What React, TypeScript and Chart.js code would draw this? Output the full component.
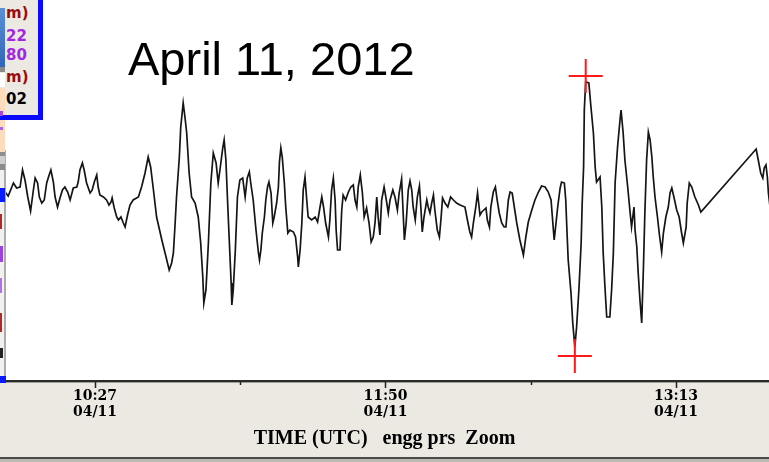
import React, { useEffect, useRef } from "react";
import { Chart, registerables } from "chart.js";

Chart.register(...registerables);

// Time in minutes after 10:00 UTC (04/11), sea level in cm
const times: number[] = [
  -0.2, 1.3, 2.2, 3.7, 4.6, 5.6, 6.3, 7.0, 7.8, 8.6,
  9.4, 9.9, 10.6, 11.1, 11.8, 12.5, 13.2, 13.9, 14.4, 15.1,
  15.6, 16.3, 17.0, 17.7, 18.4, 19.2, 19.9, 20.8, 21.8, 22.2,
  22.7, 23.4, 23.9, 24.6, 25.6, 26.2, 26.8, 27.5, 27.9, 28.4,
  29.4, 30.3, 31.0, 31.6, 31.9, 32.5, 33.2, 33.7, 34.4, 35.1,
  35.6, 36.3, 37.0, 37.9, 39.4, 40.3, 41.3, 42.2, 42.9, 43.7,
  44.6, 46.1, 47.3, 48.2, 48.9, 49.4, 49.9, 50.3, 51.1, 51.5,
  52.2, 52.7, 53.2, 53.9, 54.6, 55.6, 56.5, 57.2, 57.8, 58.1,
  58.7, 59.4, 60.1, 60.8, 61.6, 62.2, 62.7, 63.5, 63.9, 64.4,
  64.9, 65.4, 65.9, 66.1, 66.5, 67.1, 67.7, 68.4, 69.2, 69.9,
  70.5, 71.1, 71.5, 72.2, 73.0, 73.7, 74.0, 74.4, 74.8, 75.4,
  75.8, 76.3, 76.7, 77.3, 77.8, 78.2, 78.9, 79.4, 79.7, 80.1,
  80.5, 81.1, 81.5, 82.1, 82.7, 83.7, 84.3, 84.9, 85.1, 85.6,
  86.1, 86.5, 87.0, 87.5, 87.9, 88.9, 89.9, 90.6, 91.3, 91.8,
  92.3, 92.9, 93.7, 94.1, 94.6, 95.1, 95.6, 95.9, 96.3, 97.0,
  97.5, 97.9, 98.6, 99.4, 100.1, 100.8, 101.3, 101.8, 102.2, 102.8,
  103.4, 103.9, 104.6, 105.3, 105.9, 106.5, 107.0, 107.5, 107.9, 108.4,
  108.9, 109.6, 110.1, 110.8, 111.3, 112.1, 112.7, 113.4, 113.9, 114.6,
  115.1, 115.4, 115.9, 116.5, 117.0, 117.5, 117.9, 118.5, 119.1, 119.7,
  120.1, 120.5, 121.0, 121.8, 122.2, 122.7, 123.2, 123.7, 124.1, 124.8,
  125.4, 125.9, 126.3, 127.0, 127.8, 128.6, 129.4, 130.3, 131.3, 132.7,
  133.4, 134.1, 134.6, 135.1, 135.8, 136.3, 137.0, 137.5, 138.1, 138.7,
  139.1, 139.7, 140.1, 140.8, 141.4, 141.9, 142.5, 143.2, 143.9, 144.4,
  145.1, 145.6, 146.2, 146.8, 147.5, 148.4, 149.4, 150.1, 150.8, 151.8,
  152.7, 153.7, 154.6, 155.6, 156.5, 157.3, 157.9, 158.2, 158.6, 159.2,
  159.9, 160.3, 161.1, 161.5, 161.8, 162.2, 163.0, 163.5, 164.1, 164.6,
  165.3, 165.9, 166.2, 166.6, 166.8, 167.2, 168.1, 168.7, 169.4, 169.9,
  170.3, 171.3, 171.8, 172.2, 172.7, 173.2, 174.1, 174.6, 175.1, 175.6,
  176.3, 177.0, 177.3, 177.9, 178.4, 179.2, 179.9, 180.3, 181.0, 181.3,
  181.8, 182.2, 182.7, 183.2, 183.7, 184.1, 184.6, 185.1, 185.6, 186.1,
  186.5, 187.0, 187.7, 188.2, 188.9, 189.4, 190.1, 190.8, 191.3, 191.8,
  192.4, 193.2, 193.9, 194.6, 195.1, 195.9, 196.2, 196.8, 197.5, 198.4,
  199.4, 200.1, 215.9, 216.5, 217.2, 217.8, 218.2, 218.7, 219.1, 219.4, 219.8,
];

const levels: number[] = [
  1.4, 1.3, 0.9, 2.2, 1.7, 1.8, 3.5, 2.5, 0.8, -0.6,
  1.5, 2.7, 2.2, 0.8, 0.2, 0.5, 2.2, 3.0, 3.5, 2.3,
  0.8, -0.2, 0.7, 1.5, 1.8, 1.3, 0.5, 1.7, 1.8, 2.3,
  3.5, 4.2, 3.5, 2.2, 1.2, 1.5, 2.3, 3.0, 1.8, 1.0,
  0.8, 0.5, 0.0, 0.3, 0.7, -0.3, -1.2, -1.5, -1.2, -1.8,
  -2.2, -1.0, 0.0, 0.5, 0.8, 1.8, 3.2, 4.8, 3.8, 1.5,
  -1.2, -3.5, -5.2, -6.5, -5.8, -4.8, -1.8, 0.8, 4.8, 7.8,
  10.2, 8.8, 7.2, 3.2, 0.8, 0.2, -1.2, -3.8, -7.2, -9.8,
  -8.5, -3.8, 2.2, 5.2, 4.2, 2.2, 3.5, 5.7, 6.5, 4.5,
  0.2, -3.8, -7.8, -10.0, -8.5, -4.5, 0.8, 2.5, 2.7, 0.8,
  2.7, 3.3, 2.2, 0.5, -2.5, -4.8, -5.5, -4.5, -2.8, -1.2,
  0.5, 1.8, 2.3, 1.2, -1.8, -1.2, 0.2, 1.8, 4.3, 5.7,
  4.8, 2.2, -0.2, -2.8, -2.5, -2.7, -3.2, -5.2, -6.2, -4.5,
  -1.8, 1.5, 2.8, 0.5, -1.2, -1.5, -1.2, -1.7, -0.2, 0.8,
  -0.2, -1.8, -3.2, -1.5, 1.5, 2.7, 0.5, -2.5, -4.5, -4.5,
  -0.5, 1.0, 0.5, 1.3, 1.8, 2.0, 0.5, -0.2, 1.8, 3.0,
  1.2, -1.2, -0.3, -1.8, -3.7, -3.2, -1.8, 0.8, -1.2, -3.0,
  0.5, 1.8, 0.8, -0.8, 0.5, 1.5, 0.8, -0.5, 1.2, 2.6,
  -1.2, -3.5, -1.8, 1.5, 2.4, 1.5, -0.2, -1.5, 0.8, 1.9,
  -0.2, -2.7, -1.2, 0.5, -0.2, -0.8, 0.2, 1.0, -0.5, -2.5,
  -3.2, -1.2, 0.7, 0.2, -0.2, 0.8, 0.5, 0.2, 0.0, -0.2,
  -1.5, -2.7, -3.2, -1.8, -0.2, 1.2, -1.0, -0.7, -0.5, -0.3,
  -1.5, -2.2, -0.2, 1.3, 1.8, 0.5, -0.8, -1.8, -2.2, -2.2,
  0.5, 1.3, 1.2, -0.2, -1.8, -3.5, -5.0, -3.2, -1.7, -0.5,
  0.5, 1.3, 1.9, 1.8, 1.3, 0.5, -2.2, -3.5, -2.2, -0.2,
  1.7, 2.3, 2.2, 0.5, -2.2, -5.5, -8.8, -11.8, -14.2, -12.2,
  -8.2, -3.8, 0.2, 3.8, 9.5, 12.3, 12.2, 9.8, 7.2, 3.8,
  2.3, 2.8, -0.2, -4.8, -8.2, -11.2, -11.2, -8.5, -4.8, 2.2,
  5.8, 8.5, 9.5, 7.2, 4.5, 1.8, -0.8, -2.2, -0.2, -2.5,
  -4.2, -6.8, -9.5, -11.8, -6.2, -0.8, 4.5, 7.3, 6.5, 4.8,
  2.8, 0.8, -1.2, -2.8, -4.7, -2.8, -1.2, -0.2, 1.2, 1.7,
  0.8, -0.5, -1.2, -2.8, -3.8, -2.2, 0.2, 2.2, 1.8, 0.8,
  0.0, -0.7, 5.6, 4.5, 3.2, 2.7, 3.7, 4.0, 2.8, 1.2, 0.0,
];

// Max / min markers (red crosses)
const extremeTimes: number[] = [167.2, 164.1];
const extremeLevels: number[] = [12.9, -15.1];

// X axis ticks (minutes after 10:00)
const tickValues: number[] = [27, 68.5, 110, 151.5, 193];
const tickLabels: (string | string[])[] = [["10:27", "04/11"], "", ["11:50", "04/11"], "", ["13:13", "04/11"]];
const tickIsMajor: boolean[] = [true, false, true, false, true];

const xMin = -0.14;
const xMax = 219.57;
const yMin = -17.6;
const yMax = 20.5;

const axisTitle = "TIME (UTC)   engg prs  Zoom";
const chartTitle = "April 11, 2012";

const panelTexts: string[] = ["m)", "22", "80", "m)", "02"];
const panelColors: string[] = ["#9a0b0b", "#a028e0", "#a028e0", "#9a0b0b", "#000000"];
const panelTops: number[] = [6, 29, 48, 70, 92];

const framePlugin = {
  id: "frame",
  beforeDraw(chart: any) {
    const { ctx, chartArea, width, height } = chart;
    ctx.save();
    ctx.fillStyle = "#ffffff";
    ctx.fillRect(0, 0, width, chartArea.bottom);
    ctx.fillStyle = "#ECE9E3";
    ctx.fillRect(0, chartArea.bottom, width, height - chartArea.bottom);
    ctx.fillStyle = "#a09e9a";
    ctx.fillRect(0, chartArea.bottom + 1, width, 1);
    ctx.fillStyle = "#4a4a4a";
    ctx.fillRect(0, height - 5, width, 2);
    ctx.fillStyle = "#bdbab4";
    ctx.fillRect(0, height - 3, width, 3);
    ctx.restore();
  },
  afterDraw(chart: any) {
    const { ctx, chartArea } = chart;
    const scale = chart.scales.x;
    ctx.save();
    ctx.strokeStyle = "#222";
    ctx.lineWidth = 1.5;
    tickValues.forEach((v, i) => {
      const x = Math.round(scale.getPixelForValue(v)) + 0.5;
      const len = tickIsMajor[i] ? 6 : 3;
      ctx.beginPath();
      ctx.moveTo(x, chartArea.bottom + 1);
      ctx.lineTo(x, chartArea.bottom + 1 + len);
      ctx.stroke();
    });
    ctx.restore();
  },
};

export default function App() {
  const canvasRef = useRef<HTMLCanvasElement>(null);

  useEffect(() => {
    const canvas = canvasRef.current;
    if (!canvas) return;
    const n = Math.min(times.length, levels.length);
    const tracePoints: { x: number; y: number }[] = [];
    for (let i = 0; i < n; i++) tracePoints.push({ x: times[i], y: levels[i] });
    const extremePoints = extremeTimes.map((t, i) => ({ x: t, y: extremeLevels[i] }));

    const chart = new Chart(canvas, {
      type: "line",
      data: {
        datasets: [
          {
            type: "scatter",
            data: extremePoints,
            pointStyle: "cross",
            pointRadius: 17,
            borderColor: "#ff1a1a",
            backgroundColor: "#ff1a1a",
            pointBorderColor: "#ff1a1a",
            pointBorderWidth: 2,
            showLine: false,
            clip: false,
            order: 0,
          } as any,
          {
            data: tracePoints,
            borderColor: "#151515",
            borderWidth: 1.7,
            pointRadius: 0,
            tension: 0,
            fill: false,
            order: 1,
          },
        ],
      },
      options: {
        animation: false,
        responsive: false,
        maintainAspectRatio: false,
        devicePixelRatio: 1,
        events: [],
        layout: { padding: 0, autoPadding: false },
        plugins: {
          legend: { display: false },
          tooltip: { enabled: false },
          title: { display: false },
        },
        scales: {
          x: {
            type: "linear",
            position: "bottom",
            min: xMin,
            max: xMax,
            offset: false,
            afterFit: (s: any) => {
              s.height = 81;
            },
            afterBuildTicks: (s: any) => {
              s.ticks = tickValues.map((v) => ({ value: v }));
            },
            grid: { display: true, drawOnChartArea: false, drawTicks: false, color: "rgba(0,0,0,0)" },
            border: { display: true, color: "#2b2b2b", width: 2 },
            ticks: {
              autoSkip: false,
              maxRotation: 0,
              minRotation: 0,
              padding: 8,
              color: "#000",
              font: { family: "'DejaVu Serif', serif", weight: "bold", size: 14, lineHeight: 1.1 },
              callback: (_v: any, i: number) => tickLabels[i],
            },
            title: {
              display: true,
              text: axisTitle,
              color: "#000",
              font: { family: "'Liberation Serif', serif", weight: "bold", size: 20, lineHeight: 1.2 },
              padding: { top: 0, bottom: 11 },
            },
          },
          y: { display: false, min: yMin, max: yMax },
        },
      } as any,
      plugins: [framePlugin],
    });
    return () => chart.destroy();
  }, []);

  return (
    <div
      style={{
        position: "fixed",
        left: 0,
        top: 0,
        width: 769,
        height: 462,
        background: "#fff",
        overflow: "hidden",
      }}
    >
      <canvas
        ref={canvasRef}
        width={769}
        height={462}
        style={{ position: "absolute", left: 0, top: 0, width: 769, height: 462, display: "block" }}
      />
      {/* left strip */}
      <div style={{ position: "absolute", left: 0, top: 118, width: 4, height: 264, background: "#f2f1ee" }} />
      <div style={{ position: "absolute", left: 4, top: 150, width: 2, height: 232, background: "#acacac" }} />
      <div style={{ position: "absolute", left: 0, top: 118, width: 5, height: 34, background: "#fcdcbc" }} />
      <div style={{ position: "absolute", left: 0, top: 118, width: 4, height: 2, background: "#a64ad8" }} />
      <div style={{ position: "absolute", left: 0, top: 127, width: 3, height: 3, background: "#b060e0" }} />
      <div style={{ position: "absolute", left: 0, top: 152, width: 5, height: 4, background: "#8e8e8e" }} />
      <div style={{ position: "absolute", left: 0, top: 156, width: 5, height: 8, background: "#cfcfcf" }} />
      <div style={{ position: "absolute", left: 0, top: 164, width: 5, height: 6, background: "#8c8c8c" }} />
      <div style={{ position: "absolute", left: 0, top: 188, width: 5, height: 14, background: "#0a1aff" }} />
      <div style={{ position: "absolute", left: 0, top: 214, width: 2, height: 15, background: "#b02a2a" }} />
      <div style={{ position: "absolute", left: 0, top: 246, width: 3, height: 16, background: "#a040e0" }} />
      <div style={{ position: "absolute", left: 0, top: 278, width: 2, height: 15, background: "#b070e8" }} />
      <div style={{ position: "absolute", left: 0, top: 313, width: 2, height: 19, background: "#b02a2a" }} />
      <div style={{ position: "absolute", left: 0, top: 348, width: 3, height: 10, background: "#222" }} />
      <div style={{ position: "absolute", left: 0, top: 376, width: 6, height: 7, background: "#0a1aff" }} />

      {/* top-left panel */}
      <div
        style={{
          position: "absolute",
          left: 0,
          top: 0,
          width: 38,
          height: 115,
          background: "#ECE9E3",
          borderRight: "5px solid #0a0aff",
          borderBottom: "5px solid #0a0aff",
        }}
      />
      <div
        style={{
          position: "absolute",
          left: 0,
          top: 8,
          width: 5,
          height: 59,
          background: "linear-gradient(#5b90d6, #2f66b8)",
        }}
      />
      <div style={{ position: "absolute", left: 0, top: 67, width: 5, height: 5, background: "#8a8a8a" }} />
      <div style={{ position: "absolute", left: 0, top: 73, width: 5, height: 14, background: "#ffffff" }} />
      <div style={{ position: "absolute", left: 0, top: 88, width: 5, height: 27, background: "#fcdcbc" }} />
      <div style={{ position: "absolute", left: 0, top: 111, width: 3, height: 5, background: "#a64ad8" }} />
      {panelTexts.map((t, i) => (
        <div
          key={i}
          style={{
            position: "absolute",
            left: 6,
            top: panelTops[i],
            fontFamily: "'DejaVu Sans', sans-serif",
            fontWeight: "bold",
            fontSize: 15,
            lineHeight: "15px",
            color: panelColors[i],
            whiteSpace: "nowrap",
          }}
        >
          {t}
        </div>
      ))}

      {/* title */}
      <div
        style={{
          position: "absolute",
          left: 128,
          top: 35,
          fontFamily: "'Liberation Sans', Arial, sans-serif",
          fontSize: 47,
          lineHeight: "47px",
          color: "#000",
          whiteSpace: "nowrap",
        }}
      >
        {chartTitle}
      </div>
    </div>
  );
}
